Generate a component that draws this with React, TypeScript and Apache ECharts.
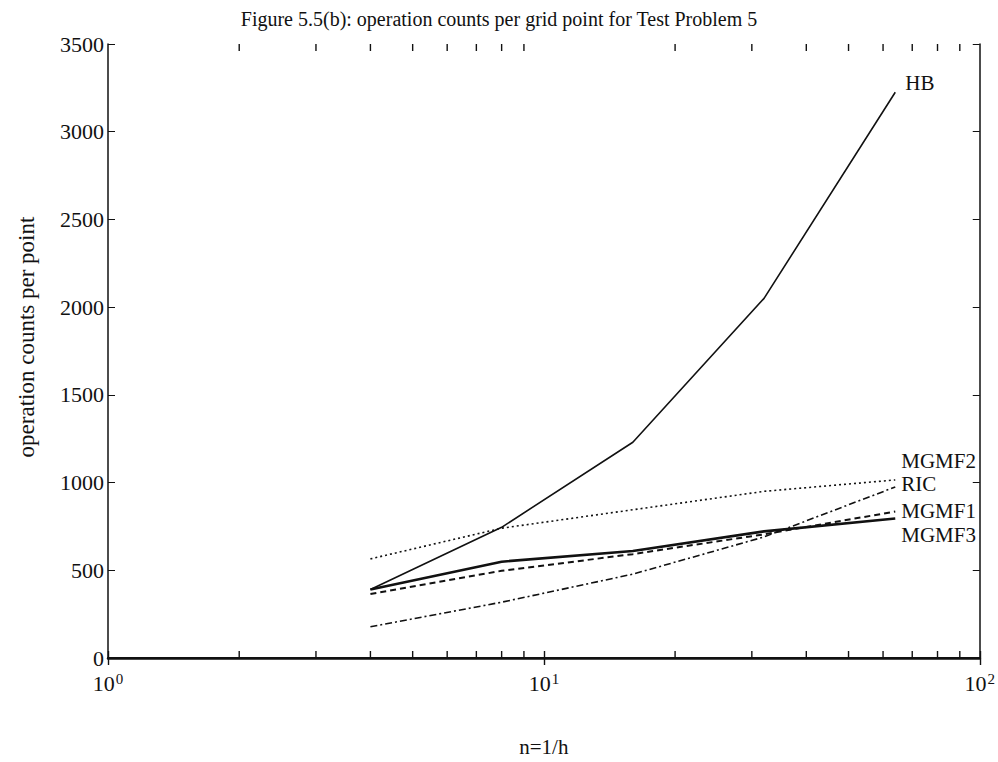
import React, { useEffect, useRef } from "react";
import * as echarts from "echarts";

const titleText = "Figure 5.5(b): operation counts per grid point for Test Problem 5";
const xName = "n=1/h";
const yName = "operation counts per point";

const gridSizes = [4, 8, 16, 32, 64];
const hb = [390, 745, 1230, 2050, 3225];
const mgmf2 = [565, 740, 845, 950, 1015];
const ric = [178, 318, 478, 690, 975];
const mgmf1 = [365, 497, 592, 705, 835];
const mgmf3 = [390, 549, 610, 722, 795];

const yTicks = [0, 500, 1000, 1500, 2000, 2500, 3000, 3500];
const xMinorTicks = [2, 3, 4, 5, 6, 7, 8, 9, 20, 30, 40, 50, 60, 70, 80, 90];

const FONT = "'Liberation Serif', 'DejaVu Serif', serif";
const INK = "#111";

function pairs(vals: number[]) {
  return gridSizes.map((x, i) => [x, vals[i]]);
}

export default function App() {
  const ref = useRef<HTMLDivElement>(null);
  useEffect(() => {
    if (!ref.current) return;
    const chart = echarts.init(ref.current, undefined, { renderer: "svg" });

    const mkSeries = (
      name: string,
      vals: number[],
      type: any,
      width: number,
      dy: number,
      dx: number
    ) => ({
      name,
      type: "line",
      data: pairs(vals),
      symbol: "none",
      lineStyle: { color: INK, width, type },
      endLabel: {
        show: true,
        formatter: name,
        color: INK,
        fontFamily: FONT,
        fontSize: 21,
        lineHeight: 20,
        distance: 0,
        offset: [dx, dy],
      },
      z: 3,
    });

    const tickSeries = (yVal: number, dir: number) => ({
      type: "custom",
      silent: true,
      clip: false,
      z: 10,
      data: xMinorTicks.map((v) => [v, yVal]),
      encode: { x: 0, y: 1 },
      renderItem: (params: any, api: any) => {
        const p = api.coord([api.value(0), api.value(1)]);
        return {
          type: "line",
          shape: { x1: p[0], y1: p[1], x2: p[0], y2: p[1] + dir * 7 },
          style: { stroke: INK, lineWidth: 1.4 },
        };
      },
    });

    const option: any = {
      animation: false,
      backgroundColor: "#fff",
      title: {
        text: titleText,
        left: "center",
        top: 4,
        textStyle: { fontFamily: FONT, fontSize: 20, fontWeight: "normal", color: INK },
      },
      graphic: [
        {
          type: "text",
          x: 26,
          y: 337,
          rotation: Math.PI / 2,
          style: {
            text: yName,
            font: `23px ${FONT}`,
            fill: INK,
            textAlign: "center",
            textVerticalAlign: "middle",
          },
        },
      ],
      grid: { left: 108, right: 18, top: 44, bottom: 94, containLabel: false },
      xAxis: [
        {
          type: "log",
          logBase: 10,
          min: 1,
          max: 100,
          position: "bottom",
          name: xName,
          nameLocation: "middle",
          nameGap: 78,
          nameTextStyle: { fontFamily: FONT, fontSize: 21, color: INK },
          axisLine: { show: true, lineStyle: { color: INK, width: 2.5 } },
          axisTick: { show: true, inside: true, length: 7, lineStyle: { color: INK, width: 1.4 } },
          splitLine: { show: false },
          axisLabel: {
            margin: 13,
            formatter: (v: number) => `{b|10}{s|${Math.round(Math.log10(v))}}`,
            rich: {
              b: { fontFamily: FONT, fontSize: 22, color: INK, lineHeight: 24 },
              s: { fontFamily: FONT, fontSize: 15, color: INK, verticalAlign: "top", lineHeight: 24, padding: [0, 0, 8, 1] },
            },
          },
        },
        {
          type: "log",
          logBase: 10,
          min: 1,
          max: 100,
          position: "top",
          axisLine: { show: true, lineStyle: { color: INK, width: 2 } },
          axisTick: { show: true, inside: true, length: 7, lineStyle: { color: INK, width: 1.4 } },
          splitLine: { show: false },
          axisLabel: { show: false },
        },
      ],
      yAxis: [
        {
          type: "value",
          min: 0,
          max: 3500,
          interval: 500,
          position: "left",
          axisLine: { show: true, lineStyle: { color: INK, width: 1.5 } },
          axisTick: { show: true, inside: true, length: 7, lineStyle: { color: INK } },
          splitLine: { show: false },
          axisLabel: {
            margin: 4,
            fontFamily: FONT,
            fontSize: 22,
            color: INK,
            formatter: (v: number) => (yTicks.includes(v) ? String(v) : ""),
          },
        },
        {
          type: "value",
          min: 0,
          max: 3500,
          interval: 500,
          position: "right",
          axisLine: { show: true, lineStyle: { color: INK, width: 1.5 } },
          axisTick: { show: true, inside: true, length: 7, lineStyle: { color: INK } },
          splitLine: { show: false },
          axisLabel: { show: false },
        },
      ],
      series: [
        mkSeries("HB", hb, "solid", 1.6, -9, 10),
        mkSeries("MGMF2", mgmf2, [2, 3], 1.6, -19, 6),
        mkSeries("RIC", ric, [7, 3, 2, 3], 1.6, -3, 6),
        mkSeries("MGMF1", mgmf1, [6, 4], 2, -1, 6),
        mkSeries("MGMF3", mgmf3, "solid", 2.6, 16, 6),
        tickSeries(0, -1),
        tickSeries(3500, 1),
      ],
    };
    chart.setOption(option);
    return () => chart.dispose();
  }, []);

  return (
    <div
      ref={ref}
      style={{ position: "fixed", left: 0, top: 0, width: 998, height: 762, background: "#fff" }}
    />
  );
}
